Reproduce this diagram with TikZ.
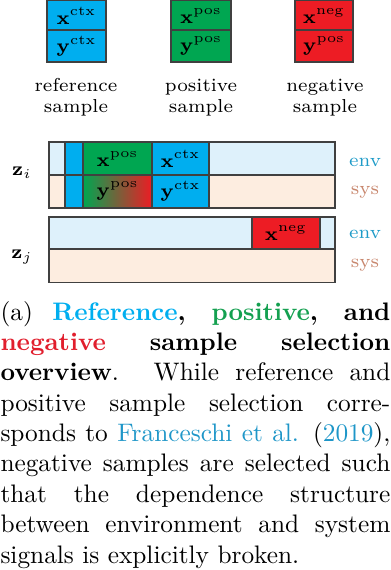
\RequirePackage{fix-cm}
\documentclass[tikz,border=0pt]{standalone}
\usepackage{amsmath}
\definecolor{cyanbox}{RGB}{0,174,239}
\definecolor{greenbox}{RGB}{0,166,81}
\definecolor{redbox}{RGB}{237,28,36}
\definecolor{envfill}{RGB}{222,241,251}
\definecolor{sysfill}{RGB}{253,237,224}
\definecolor{envtext}{RGB}{30,155,200}
\definecolor{systext}{RGB}{200,135,110}
\definecolor{citec}{RGB}{30,150,200}
\definecolor{posc}{RGB}{20,160,80}
\definecolor{negc}{RGB}{225,30,45}
\begin{document}
\begin{tikzpicture}[x=0.395pt,y=-0.395pt,
  edge/.style={draw=black!75,line width=0.45pt},
  dtxt/.style={inner sep=0pt,font=\fontsize{7.6}{8.4}\selectfont},
  lbl/.style={inner sep=0pt,align=center,font=\fontsize{7.4}{8.3}\selectfont}]
\useasboundingbox (0,0) rectangle (390,570);

% top sample boxes
\filldraw[edge,fill=cyanbox] (47,0.8) rectangle (106,62);
\draw[edge] (47,30) -- (106,30);
\node[dtxt] (rx) at (76.5,16) {$\mathbf{x}^{\mathrm{ctx}}$};
\node[dtxt] (ry) at (76.5,46) {$\mathbf{y}^{\mathrm{ctx}}$};
\filldraw[edge,fill=greenbox] (171,0.8) rectangle (231,62);
\draw[edge] (171,30) -- (231,30);
\node[dtxt] (px) at (201,16) {$\mathbf{x}^{\mathrm{pos}}$};
\node[dtxt] (py) at (201,46) {$\mathbf{y}^{\mathrm{pos}}$};
\filldraw[edge,fill=redbox] (295,0.8) rectangle (353,62);
\draw[edge] (295,30) -- (353,30);
\node[dtxt] (nx) at (324,16) {$\mathbf{x}^{\mathrm{neg}}$};
\node[dtxt] (ny) at (324,46) {$\mathbf{y}^{\mathrm{pos}}$};

\node[lbl,anchor=base] (rl) at (76,112.7) {reference\\sample};
\node[lbl,anchor=base] (pl) at (201,112.7) {positive\\sample};
\node[lbl,anchor=base] (nl) at (325,112.7) {negative\\sample};

% z_i bar
\fill[envfill] (49,142) rectangle (335,175);
\fill[sysfill] (49,175) rectangle (335,208);
\fill[cyanbox] (65,142) rectangle (83,208);
\fill[greenbox] (83,142) rectangle (152,175);
\shade[left color=greenbox,right color=redbox] (83,175) rectangle (152,208);
\fill[cyanbox] (152,142) rectangle (209,208);
\draw[edge] (49,142) rectangle (335,208);
\draw[edge] (49,175) -- (335,175);
\draw[edge] (65,142) -- (65,208);
\draw[edge] (83,142) -- (83,208);
\draw[edge] (152,142) -- (152,208);
\draw[edge] (209,142) -- (209,208);
\node[dtxt] (zix) at (117.5,159) {$\mathbf{x}^{\mathrm{pos}}$};
\node[dtxt] (ziy) at (117.5,191) {$\mathbf{y}^{\mathrm{pos}}$};
\node[dtxt] (zicx) at (180.5,159) {$\mathbf{x}^{\mathrm{ctx}}$};
\node[dtxt] (zicy) at (180.5,191) {$\mathbf{y}^{\mathrm{ctx}}$};

% z_j bar
\fill[envfill] (49,217) rectangle (335,249);
\fill[sysfill] (49,249) rectangle (335,282.5);
\fill[redbox] (252,217) rectangle (320,249);
\draw[edge] (49,217) rectangle (335,282.5);
\draw[edge] (49,249) -- (335,249);
\draw[edge] (252,217) -- (252,249);
\draw[edge] (320,217) -- (320,249);
\node[dtxt] (zjx) at (286,233) {$\mathbf{x}^{\mathrm{neg}}$};

% side labels
\node[dtxt] (zi) at (22,173) {$\mathbf{z}_i$};
\node[dtxt] (zj) at (22,257) {$\mathbf{z}_j$};
\node[lbl,text=envtext] (env1) at (365,162) {env};
\node[lbl,text=systext] (sys1) at (365,192) {sys};
\node[lbl,text=envtext] (env2) at (365,234) {env};
\node[lbl,text=systext] (sys2) at (365,265) {sys};

% caption
\node[anchor=base west,inner sep=0pt] (cap) at (0,320) {\parbox[t]{154pt}{\fontsize{10}{12}\selectfont
(a) \textbf{\textcolor{cyanbox}{Reference}, \textcolor{posc}{positive}, and\linebreak
\textcolor{negc}{negative} sample selection\linebreak
overview}. While reference and\linebreak
positive sample selection corre-\linebreak
sponds to \textcolor{citec}{Franceschi et al.} (\textcolor{citec}{2019}),\linebreak
negative samples are selected such\linebreak
that the dependence structure\linebreak
between environment and system\linebreak
signals is explicitly broken.}};
\end{tikzpicture}
\end{document}
